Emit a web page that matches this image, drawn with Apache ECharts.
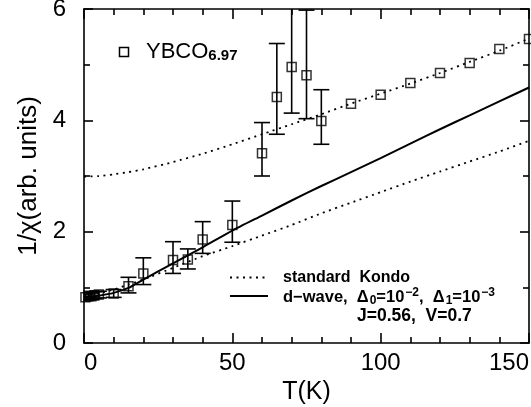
<!DOCTYPE html>
<html>
<head>
<meta charset="utf-8">
<script src="https://cdn.jsdelivr.net/npm/echarts@6/dist/echarts.min.js"></script>
<style>
  html, body { margin: 0; padding: 0; background: #fff; }
  #chart { width: 531px; height: 407px; }
</style>
</head>
<body>
<div id="chart"></div>
<script>
// measured points, YBCO6.97
var tData  = [0.5, 1.5, 2.5, 3.5, 5, 10, 15, 20, 30, 35, 40, 50, 60, 65, 70, 75, 80, 90, 100, 110, 120, 130, 140, 150];
var chiData = [0.82, 0.85, 0.84, 0.86, 0.87, 0.89, 1.02, 1.25, 1.49, 1.50, 1.86, 2.12, 3.41, 4.42, 4.96, 4.81, 3.99, 4.30, 4.46, 4.67, 4.85, 5.03, 5.28, 5.46];
// error bars (null = none)
var errLow  = [0.76, 0.79, 0.78, 0.80, 0.81, 0.82, 0.90, 1.05, 1.25, 1.33, 1.61, 1.81, 3.00, 3.75, 4.13, 4.03, 3.57, null, null, null, null, null, null, null];
var errHigh = [0.88, 0.91, 0.90, 0.92, 0.93, 0.96, 1.18, 1.53, 1.82, 1.69, 2.18, 2.55, 3.96, 5.38, 6.40, 5.98, 4.55, null, null, null, null, null, null, null];

// theory curves
var tCurve     = [0, 5, 10, 15, 20, 30, 40, 50, 60, 70, 80, 90, 100, 110, 120, 130, 140, 150];
var kondoUpper = [2.99, 3.00, 3.03, 3.07, 3.12, 3.25, 3.40, 3.57, 3.75, 3.93, 4.11, 4.30, 4.48, 4.66, 4.85, 5.05, 5.25, 5.47];
var kondoLower = [0.83, 0.89, 0.96, 1.05, 1.14, 1.35, 1.56, 1.74, 1.93, 2.12, 2.33, 2.52, 2.71, 2.90, 3.08, 3.26, 3.44, 3.63];
var dWave      = [0.82, 0.85, 0.90, 0.99, 1.14, 1.43, 1.72, 2.02, 2.29, 2.56, 2.82, 3.07, 3.32, 3.58, 3.84, 4.09, 4.34, 4.59];

var xTicks = [0, 50, 100, 150];
var yTicks = [0, 2, 4, 6];

var FONT = 'Liberation Sans, Arial, sans-serif';
var dots = [2, 4.5];

function pairs(xs, ys) {
    return xs.map(function (x, i) { return [x, ys[i]]; });
}

var errData = [];
tData.forEach(function (t, i) {
    if (errLow[i] != null) errData.push([t, errLow[i], errHigh[i]]);
});

function axisX(pos, labels) {
    return {
        type: 'value', position: pos, min: xTicks[0], max: xTicks[xTicks.length - 1], interval: 50,
        axisLine: { show: true, onZero: false, lineStyle: { color: '#000', width: 1.6 } },
        axisTick: { show: true, inside: true, length: 10, lineStyle: { color: '#000', width: 1.6 } },
        minorTick: { show: true, splitNumber: 5, length: 6, lineStyle: { color: '#000', width: 1.6 } },
        splitLine: { show: false },
        axisLabel: { show: labels, color: '#000', fontSize: 24, fontFamily: FONT, margin: 8,
                     alignMinLabel: 'left', alignMaxLabel: 'right' },
        name: labels ? 'T(K)' : '',
        nameLocation: 'middle', nameGap: 31,
        nameTextStyle: { color: '#000', fontSize: 25, fontFamily: FONT }
    };
}
function axisY(pos, labels) {
    return {
        type: 'value', position: pos, min: yTicks[0], max: yTicks[yTicks.length - 1], interval: 2,
        axisLine: { show: true, onZero: false, lineStyle: { color: '#000', width: 1.6 } },
        axisTick: { show: true, inside: true, length: 9, lineStyle: { color: '#000', width: 1.6 } },
        minorTick: { show: true, splitNumber: 2, length: 6, lineStyle: { color: '#000', width: 1.6 } },
        splitLine: { show: false },
        axisLabel: { show: labels, color: '#000', fontSize: 24, fontFamily: FONT, margin: 18 },
        name: labels ? '1/\u03c7(arb. units)' : '',
        nameLocation: 'middle', nameGap: 36,
        nameTextStyle: { color: '#000', fontSize: 26, fontFamily: FONT }
    };
}

var chart = echarts.init(document.getElementById('chart'));
var option = {
    animation: false,
    grid: { left: 84, right: 2, top: 9, bottom: 64, containLabel: false, outerBoundsMode: 'none' },
    xAxis: [axisX('bottom', true), axisX('top', false)],
    yAxis: [axisY('left', true), axisY('right', false)],
    graphic: [
        { type: 'rect', shape: { x: 119.5, y: 47.5, width: 9, height: 9 },
          style: { fill: 'none', stroke: '#000', lineWidth: 1.5 } },
        { type: 'text', x: 146, y: 52,
          style: { text: 'YBCO{s|6.97}', font: '22px ' + FONT, fill: '#000', verticalAlign: 'middle',
                   rich: { s: { fontSize: 15, fontWeight: 'bold', fontFamily: FONT, padding: [7, 0, 0, 0] } } } },
        { type: 'line', shape: { x1: 230, y1: 277.5, x2: 268, y2: 277.5 },
          style: { stroke: '#000', lineWidth: 1.8, lineDash: dots } },
        { type: 'line', shape: { x1: 230, y1: 296, x2: 268, y2: 296 },
          style: { stroke: '#000', lineWidth: 2 } },
        { type: 'text', x: 283, y: 278,
          style: { text: 'standard  Kondo', font: 'bold 16px ' + FONT, fill: '#000', verticalAlign: 'middle' } },
        { type: 'text', x: 283, y: 297,
          style: { text: 'd\u2212wave,  \u0394{s|0}=10{p|\u22122},  \u0394{s|1}=10{p|\u22123}',
                   font: 'bold 16.5px ' + FONT, fill: '#000', verticalAlign: 'middle',
                   rich: {
                       s: { fontSize: 12, fontWeight: 'bold', fontFamily: FONT, padding: [7, 0, 0, 1] },
                       p: { fontSize: 12, fontWeight: 'bold', fontFamily: FONT, padding: [0, 0, 8, 1] }
                   } } },
        { type: 'text', x: 357, y: 316,
          style: { text: 'J=0.56,  V=0.7', font: 'bold 17.5px ' + FONT, fill: '#000', verticalAlign: 'middle' } }
    ],
    series: [
        { type: 'line', data: pairs(tCurve, kondoUpper), symbol: 'none', smooth: 0.2,
          lineStyle: { color: '#000', width: 1.8, type: dots } },
        { type: 'line', data: pairs(tCurve, kondoLower), symbol: 'none', smooth: 0.2,
          lineStyle: { color: '#000', width: 1.8, type: dots } },
        { type: 'line', data: pairs(tCurve, dWave), symbol: 'none', smooth: 0.2,
          lineStyle: { color: '#000', width: 2 } },
        { type: 'custom', data: errData, clip: true, z: 3,
          renderItem: function (params, api) {
              var x = api.value(0);
              var lo = api.coord([x, api.value(1)]);
              var hi = api.coord([x, api.value(2)]);
              var w = 8;
              var st = { stroke: '#000', lineWidth: 1.6 };
              return { type: 'group', children: [
                  { type: 'line', shape: { x1: lo[0], y1: lo[1], x2: hi[0], y2: hi[1] }, style: st },
                  { type: 'line', shape: { x1: lo[0] - w, y1: lo[1], x2: lo[0] + w, y2: lo[1] }, style: st },
                  { type: 'line', shape: { x1: hi[0] - w, y1: hi[1], x2: hi[0] + w, y2: hi[1] }, style: st }
              ] };
          } },
        { type: 'scatter', data: pairs(tData, chiData), symbol: 'rect', symbolSize: 9, z: 4,
          itemStyle: { color: 'rgba(0,0,0,0)', borderColor: '#000', borderWidth: 1.5 } }
    ]
};
chart.setOption(option);
</script>
</body>
</html>
